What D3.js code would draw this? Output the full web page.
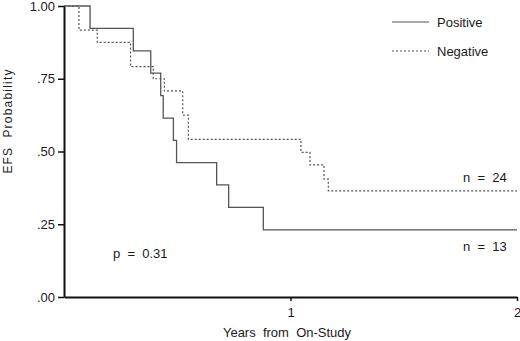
<!DOCTYPE html>
<html lang="en">
  <head>
    <meta charset="UTF-8" />
    <title>EFS by status</title>
    <style>
      * {
        margin: 0;
        padding: 0;
      }
      body {
        background-color: #fff;
      }
      text {
        font-family: "Liberation Sans", Arial, sans-serif;
        fill: #1a1a1a;
      }
    </style>
  </head>
  <body>
    <script src="https://cdn.jsdelivr.net/npm/d3@7"></script>
    <script>
      // 阳性组 (n = 13)
      const posTimes = [0, 0.115, 0.306, 0.383, 0.427, 0.438, 0.483, 0.497, 0.674, 0.727, 0.88, 2.0];
      const posSurv = [1, 0.923, 0.846, 0.769, 0.692, 0.615, 0.538, 0.462, 0.385, 0.308, 0.231, 0.231];
      // 阴性组 (n = 24)
      const negTimes = [0, 0.066, 0.147, 0.294, 0.394, 0.443, 0.524, 0.549, 1.046, 1.086, 1.148, 1.167, 2.0];
      const negSurv = [1, 0.917, 0.875, 0.792, 0.75, 0.708, 0.625, 0.542, 0.497, 0.454, 0.405, 0.365, 0.365];

      const yTicks = [0, 0.25, 0.5, 0.75, 1];
      const yTickLabels = [".00", ".25", ".50", ".75", "1.00"];
      const xTicks = [1, 2];
      const xTickLabels = ["1", "2"];
      const seriesNames = ["Positive", "Negative"];

      const margin = { left: 64, top: 6, right: 3, bottom: 44 };
      const width = 520;
      const height = 341;

      const svg = d3.select("body").append("svg").attr("width", width).attr("height", height);

      const x = d3.scaleLinear().domain([0, 2]).range([margin.left, width - margin.right]);
      const y = d3.scaleLinear().domain([0, 1]).range([height - margin.bottom, margin.top]);

      // 曲线
      const line = d3
        .line()
        .x((d) => x(d[0]))
        .y((d) => y(d[1]))
        .curve(d3.curveStepAfter);

      const pos = posTimes.map((t, i) => [t, posSurv[i]]);
      const neg = negTimes.map((t, i) => [t, negSurv[i]]);

      svg
        .append("path")
        .datum(neg)
        .attr("d", line)
        .attr("fill", "none")
        .attr("stroke", "#555")
        .attr("stroke-width", 1.2)
        .attr("stroke-dasharray", "2,2");

      svg
        .append("path")
        .datum(pos)
        .attr("d", line)
        .attr("fill", "none")
        .attr("stroke", "#555")
        .attr("stroke-width", 1.3);

      // 坐标轴
      const yAxis = svg
        .append("g")
        .attr("transform", `translate(${margin.left},0)`)
        .call(
          d3
            .axisLeft(y)
            .tickValues(yTicks)
            .tickFormat((d, i) => yTickLabels[i])
            .tickSize(6)
            .tickSizeOuter(0)
            .tickPadding(3)
        );
      yAxis.select(".domain").attr("stroke", "#111").attr("stroke-width", 2);
      yAxis.selectAll(".tick line").attr("stroke", "#111").attr("stroke-width", 1.5);
      yAxis.selectAll(".tick text").attr("font-size", 13).attr("font-family", "Liberation Sans, Arial, sans-serif").attr("fill", "#1a1a1a");

      const xAxis = svg
        .append("g")
        .attr("transform", `translate(0,${height - margin.bottom})`)
        .call(
          d3
            .axisBottom(x)
            .tickValues(xTicks)
            .tickFormat((d, i) => xTickLabels[i])
            .tickSize(4)
            .tickSizeOuter(0)
            .tickPadding(7)
        );
      xAxis.select(".domain").attr("stroke", "#111").attr("stroke-width", 2);
      xAxis.selectAll(".tick line").attr("stroke", "#111").attr("stroke-width", 1.5);
      xAxis.selectAll(".tick text").attr("font-size", 13).attr("font-family", "Liberation Sans, Arial, sans-serif").attr("fill", "#1a1a1a");

      // 轴标题
      svg
        .append("text")
        .attr("transform", "translate(12,121) rotate(-90)")
        .attr("text-anchor", "middle")
        .attr("font-size", 12)
        .attr("letter-spacing", 1.2)
        .style("white-space", "pre")
        .text("EFS  Probability");

      svg
        .append("text")
        .attr("x", 287)
        .attr("y", 337)
        .attr("text-anchor", "middle")
        .attr("font-size", 13)
        .style("white-space", "pre")
        .text("Years  from  On-Study");

      // 图例
      const legend = svg.selectAll("g.legend").data(seriesNames).enter().append("g").classed("legend", true);
      legend
        .append("line")
        .attr("x1", 392)
        .attr("x2", 429)
        .attr("y1", (d, i) => 22 + i * 29)
        .attr("y2", (d, i) => 22 + i * 29)
        .attr("stroke", "#555")
        .attr("stroke-width", 1.2)
        .attr("stroke-dasharray", (d, i) => (i ? "2,2" : null));
      legend
        .append("text")
        .attr("x", 437)
        .attr("y", (d, i) => 27 + i * 29)
        .attr("font-size", 13)
        .text((d) => d);

      // 注释
      const notes = [
        { t: "n  =  24", x: 463, y: 182 },
        { t: "n  =  13", x: 463, y: 251 },
        { t: "p  =  0.31", x: 113, y: 258 },
      ];
      svg
        .selectAll("text.note")
        .data(notes)
        .enter()
        .append("text")
        .classed("note", true)
        .attr("x", (d) => d.x)
        .attr("y", (d) => d.y)
        .attr("font-size", 13)
        .style("white-space", "pre")
        .text((d) => d.t);
    </script>
  </body>
</html>
